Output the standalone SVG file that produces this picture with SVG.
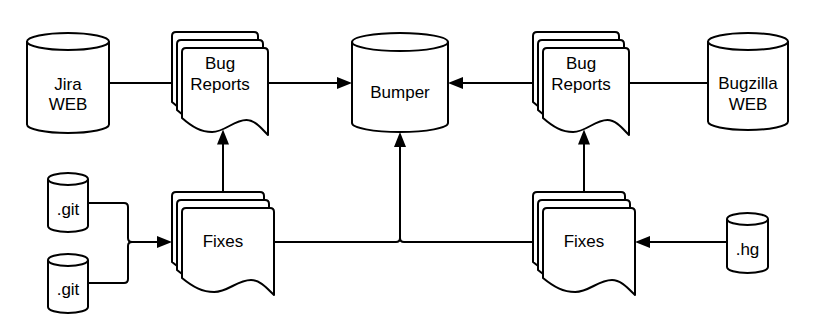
<svg xmlns="http://www.w3.org/2000/svg" xmlns:xlink="http://www.w3.org/1999/xlink" width="840" height="332" viewBox="0 0 840 332">
  <style>
    .shape { fill: #ffffff; stroke: #000000; stroke-width: 2; stroke-linejoin: round; }
    .edge { fill: none; stroke: #000000; stroke-width: 2; }
    .label { font-family: "Liberation Sans", Arial, sans-serif; font-size: 17px; fill: #000000; text-anchor: middle; }
  </style>
  <defs>
    <marker id="arrow" markerUnits="userSpaceOnUse" markerWidth="15" markerHeight="12" refX="12" refY="6" orient="auto">
      <path d="M0,0 L15,6 L0,12 Z" fill="#000000"/>
    </marker>
    <!-- single page of a stacked document, 86 wide -->
    <path id="pageNarrow" d="M0,4 Q0,0 4,0 H82 Q86,0 86,4 V87 C80,81 73.1,72 64.5,72 C51.6,72 43,84 30.1,84 C18.9,84 10.3,79 0,70 Z"/>
    <!-- single page of a stacked document, 92 wide -->
    <path id="pageWide" d="M0,4 Q0,0 4,0 H88 Q92,0 92,4 V87 C85.6,81 78.2,72 69,72 C55.2,72 46,84 32.2,84 C20.2,84 11,79 0,70 Z"/>
  </defs>

  <g id="connectors">
    <!-- Jira to bug reports -->
    <path class="edge" d="M109,83 H172"/>
    <!-- bug reports into Bumper -->
    <path class="edge" d="M268,83 H349" marker-end="url(#arrow)"/>
    <path class="edge" d="M533,83 H451" marker-end="url(#arrow)"/>
    <!-- Bugzilla to bug reports -->
    <path class="edge" d="M708,83 H629"/>
    <!-- fixes up to bug reports -->
    <path class="edge" d="M223,192 V132.5" marker-end="url(#arrow)"/>
    <path class="edge" d="M584,192 V132.5" marker-end="url(#arrow)"/>
    <!-- git repositories merge into fixes -->
    <path class="edge" d="M88,203 H124 Q128,203 128,207 V238 Q128,242 132,242"/>
    <path class="edge" d="M88,283 H124 Q128,283 128,279 V246 Q128,242 132,242 H169" marker-end="url(#arrow)"/>
    <!-- fixes merge up into Bumper -->
    <path class="edge" d="M274,242 H396 Q400,242 400,238"/>
    <path class="edge" d="M533,242 H404 Q400,242 400,238 V135" marker-end="url(#arrow)"/>
    <!-- hg repository to fixes -->
    <path class="edge" d="M727,242 H638" marker-end="url(#arrow)"/>
  </g>

  <g id="jira">
    <path class="shape" d="M27,41.5 A41,8.5 0 0 1 109,41.5 V124.5 A41,8.5 0 0 1 27,124.5 Z"/>
    <path class="edge" d="M27,41.5 A41,8.5 0 0 0 109,41.5"/>
    <text class="label" x="68" y="89.5">Jira</text>
    <text class="label" x="68" y="109.5">WEB</text>
  </g>

  <g id="bug-reports-left">
    <use xlink:href="#pageNarrow" class="shape" x="172" y="32"/>
    <use xlink:href="#pageNarrow" class="shape" x="177" y="40"/>
    <use xlink:href="#pageNarrow" class="shape" x="182" y="48"/>
    <text class="label" x="220" y="68.5">Bug</text>
    <text class="label" x="220" y="90">Reports</text>
  </g>

  <g id="bumper">
    <path class="shape" d="M352,42 A48,9 0 0 1 448,42 V123 A48,9 0 0 1 352,123 Z"/>
    <path class="edge" d="M352,42 A48,9 0 0 0 448,42"/>
    <text class="label" x="400" y="98">Bumper</text>
  </g>

  <g id="bug-reports-right">
    <use xlink:href="#pageNarrow" class="shape" x="533" y="32"/>
    <use xlink:href="#pageNarrow" class="shape" x="538" y="40"/>
    <use xlink:href="#pageNarrow" class="shape" x="543" y="48"/>
    <text class="label" x="581" y="68.5">Bug</text>
    <text class="label" x="581" y="90">Reports</text>
  </g>

  <g id="bugzilla">
    <path class="shape" d="M708,41.5 A40,8.5 0 0 1 788,41.5 V121.5 A40,8.5 0 0 1 708,121.5 Z"/>
    <path class="edge" d="M708,41.5 A40,8.5 0 0 0 788,41.5"/>
    <text class="label" x="748" y="89">Bugzilla</text>
    <text class="label" x="748" y="109.5">WEB</text>
  </g>

  <g id="git-1">
    <path class="shape" d="M48,179 A20,6 0 0 1 88,179 V226 A20,6 0 0 1 48,226 Z"/>
    <path class="edge" d="M48,179 A20,6 0 0 0 88,179"/>
    <text class="label" x="68" y="215">.git</text>
  </g>

  <g id="git-2">
    <path class="shape" d="M48,260 A20,6 0 0 1 88,260 V307 A20,6 0 0 1 48,307 Z"/>
    <path class="edge" d="M48,260 A20,6 0 0 0 88,260"/>
    <text class="label" x="68" y="294.5">.git</text>
  </g>

  <g id="fixes-left">
    <use xlink:href="#pageWide" class="shape" x="172" y="192"/>
    <use xlink:href="#pageWide" class="shape" x="177" y="200"/>
    <use xlink:href="#pageWide" class="shape" x="182" y="208"/>
    <text class="label" x="223" y="247">Fixes</text>
  </g>

  <g id="fixes-right">
    <use xlink:href="#pageWide" class="shape" x="533" y="192"/>
    <use xlink:href="#pageWide" class="shape" x="538" y="200"/>
    <use xlink:href="#pageWide" class="shape" x="543" y="208"/>
    <text class="label" x="584" y="247">Fixes</text>
  </g>

  <g id="hg">
    <path class="shape" d="M727,219 A20.5,6 0 0 1 768,219 V267 A20.5,6 0 0 1 727,267 Z"/>
    <path class="edge" d="M727,219 A20.5,6 0 0 0 768,219"/>
    <text class="label" x="747.5" y="255">.hg</text>
  </g>
</svg>
